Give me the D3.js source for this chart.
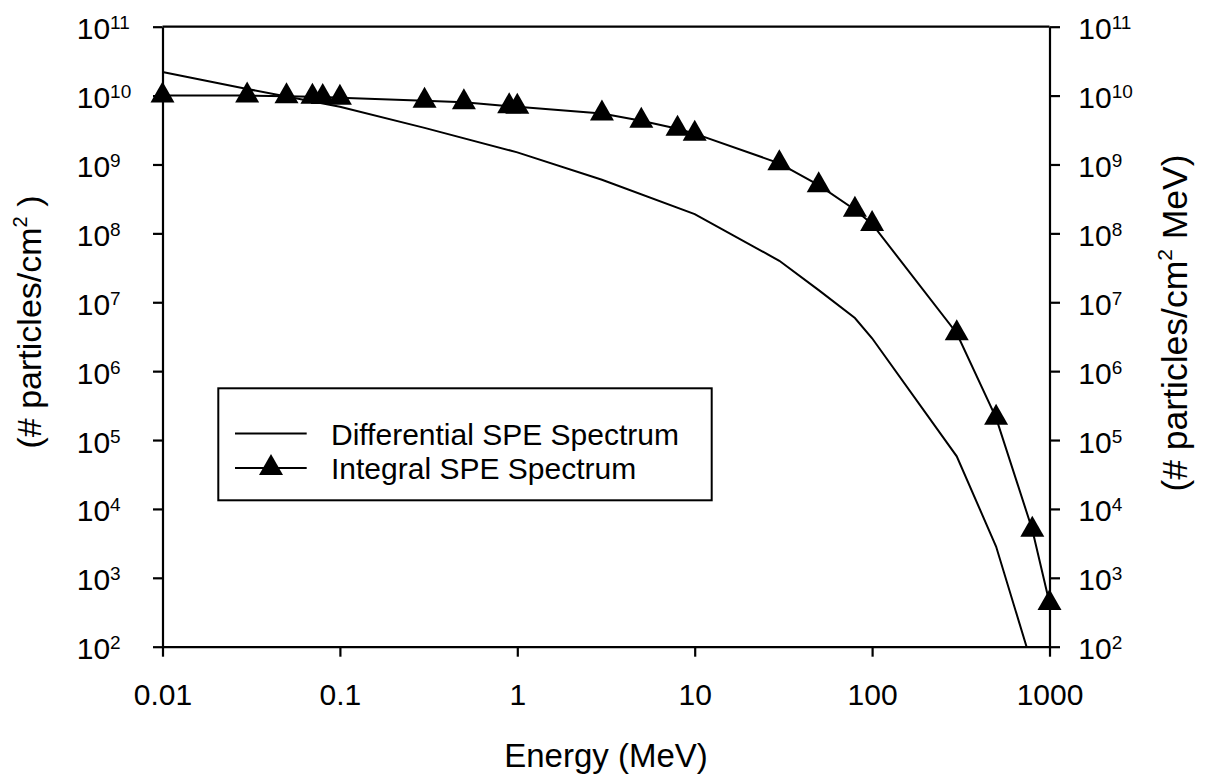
<!DOCTYPE html>
<html>
<head>
<meta charset="utf-8">
<script src="https://cdn.jsdelivr.net/npm/d3@7"></script>
<style>
  body { margin: 0; background: #fff; }
  svg { display: block; font-family: "Liberation Sans", Arial, sans-serif; }
</style>
</head>
<body>
<div id="chart"></div>
<script>
const WIDTH = 1212;
const HEIGHT = 778;
const PLOT = { left: 162.5, right: 1049.5, top: 26.7, bottom: 646.7 };

// energies (MeV) and fluence values
const DIFF_ENERGY = [0.01, 0.03, 0.1, 0.3, 1, 3, 10, 30, 50, 80, 100, 300, 500, 1000];
const DIFF_VALUES = [2.2e10, 1.25e10, 6.9e9, 3.4e9, 1.5e9, 6.0e8, 1.9e8, 4.0e7, 1.5e7, 5.9e6, 3.0e6, 5.8e4, 2.85e3, 8];

const INT_ENERGY = [0.01, 0.03, 0.05, 0.07, 0.08, 0.1, 0.3, 0.5, 0.9, 1, 3, 5, 8, 10, 30, 50, 80, 100, 300, 500, 800, 1000];
const INT_VALUES = [1.0e10, 1.0e10, 9.8e9, 9.6e9, 9.5e9, 9.3e9, 8.4e9, 8.0e9, 7.0e9, 6.9e9, 5.5e9, 4.3e9, 3.3e9, 2.8e9,
  1.04e9, 5.0e8, 2.2e8, 1.37e8, 3.55e6, 2.1e5, 5.0e3, 4.3e2];

const X_TICKS = [0.01, 0.1, 1, 10, 100, 1000];
const X_TICK_LABELS = ["0.01", "0.1", "1", "10", "100", "1000"];
const Y_EXPONENTS = [2, 3, 4, 5, 6, 7, 8, 9, 10, 11];

const LEGEND_LABELS = ["Differential SPE Spectrum", "Integral SPE Spectrum"];

const svg = d3.select("#chart").append("svg")
  .attr("width", WIDTH)
  .attr("height", HEIGHT);

const X_SCALE = d3.scaleLog().domain([0.01, 1000]).range([PLOT.left, PLOT.right]);
const Y_SCALE = d3.scaleLog().domain([1e2, 1e11]).range([PLOT.bottom, PLOT.top]);

svg.append("defs").append("clipPath").attr("id", "plot-clip")
  .append("rect")
  .attr("x", PLOT.left).attr("y", PLOT.top)
  .attr("width", PLOT.right - PLOT.left).attr("height", PLOT.bottom - PLOT.top);

// top border
svg.append("line")
  .attr("x1", PLOT.left).attr("x2", PLOT.right)
  .attr("y1", PLOT.top).attr("y2", PLOT.top)
  .attr("stroke", "#000").attr("stroke-width", 2.2);

const Y_TICK_VALUES = Y_EXPONENTS.map((e) => Math.pow(10, e));

function styleAxis(g) {
  g.select(".domain").attr("stroke", "#000").attr("stroke-width", 2.2);
  g.selectAll(".tick line").attr("stroke", "#000").attr("stroke-width", 2.2);
}

function addPowerLabels(g, xPos) {
  g.selectAll(".tick").each(function (d) {
    const t = d3.select(this).append("text")
      .attr("x", xPos)
      .attr("y", 12)
      .attr("text-anchor", "start")
      .attr("fill", "#000")
      .style("font-size", "30px");
    t.append("tspan").text("10");
    t.append("tspan")
      .attr("dy", -10)
      .style("font-size", "19px")
      .text(Math.round(Math.log10(d)));
  });
}

const leftAxis = svg.append("g")
  .attr("transform", `translate(${PLOT.left},0)`)
  .call(d3.axisLeft(Y_SCALE).tickValues(Y_TICK_VALUES).tickSize(9.5).tickSizeOuter(0).tickFormat(() => ""));
styleAxis(leftAxis);
addPowerLabels(leftAxis, 76.7 - PLOT.left);

const rightAxis = svg.append("g")
  .attr("transform", `translate(${PLOT.right},0)`)
  .call(d3.axisRight(Y_SCALE).tickValues(Y_TICK_VALUES).tickSize(10.5).tickSizeOuter(0).tickFormat(() => ""));
styleAxis(rightAxis);
addPowerLabels(rightAxis, 1078.3 - PLOT.right);

const bottomAxis = svg.append("g")
  .attr("transform", `translate(0,${PLOT.bottom})`)
  .call(d3.axisBottom(X_SCALE).tickValues(X_TICKS).tickSize(10).tickSizeOuter(0)
    .tickFormat((d, i) => X_TICK_LABELS[i]));
styleAxis(bottomAxis);
bottomAxis.selectAll(".tick text")
  .attr("y", 0).attr("dy", 58.5)
  .attr("fill", "#000")
  .style("font-size", "30px")
  .style("font-family", "'Liberation Sans', Arial, sans-serif");

// axis titles
svg.append("text")
  .attr("x", (PLOT.left + PLOT.right) / 2)
  .attr("y", 766.7)
  .attr("text-anchor", "middle")
  .style("font-size", "33px")
  .text("Energy (MeV)");

const leftTitle = svg.append("text")
  .attr("transform", "translate(41,322) rotate(-90)")
  .attr("text-anchor", "middle")
  .style("font-size", "34px");
leftTitle.append("tspan").text("(# particles/cm");
leftTitle.append("tspan").attr("dy", -14).style("font-size", "20px").text("2");
leftTitle.append("tspan").attr("dy", 14).text(" )");

const rightTitle = svg.append("text")
  .attr("transform", "translate(1187,323) rotate(-90)")
  .attr("text-anchor", "middle")
  .style("font-size", "35.5px");
rightTitle.append("tspan").text("(# particles/cm");
rightTitle.append("tspan").attr("dy", -15).style("font-size", "21px").text("2");
rightTitle.append("tspan").attr("dy", 15).text(" MeV)");

// series
const diffData = DIFF_ENERGY.map((e, i) => ({ e: e, v: DIFF_VALUES[i] }));
const intData = INT_ENERGY.map((e, i) => ({ e: e, v: INT_VALUES[i] }));

const line = d3.line()
  .x((d) => X_SCALE(d.e))
  .y((d) => Y_SCALE(d.v));

svg.append("path")
  .datum(diffData)
  .attr("clip-path", "url(#plot-clip)")
  .attr("fill", "none")
  .attr("stroke", "#000")
  .attr("stroke-width", 2)
  .attr("d", line);

svg.append("path")
  .datum(intData)
  .attr("fill", "none")
  .attr("stroke", "#000")
  .attr("stroke-width", 2)
  .attr("d", line);

const TRI = "M0,-14L12,7L-12,7Z";

svg.selectAll(".marker")
  .data(intData)
  .enter()
  .append("path")
  .attr("class", "marker")
  .attr("d", TRI)
  .attr("fill", "#000")
  .attr("transform", (d) => `translate(${X_SCALE(d.e)},${Y_SCALE(d.v)})`);

// legend
const legend = svg.append("g");
legend.append("rect")
  .attr("x", 218.3).attr("y", 388.3)
  .attr("width", 711.7 - 218.3).attr("height", 112)
  .attr("fill", "#fff")
  .attr("stroke", "#000").attr("stroke-width", 2);

LEGEND_LABELS.forEach((label, i) => {
  const cy = 433.5 + i * 34.5;
  legend.append("line")
    .attr("x1", 235).attr("x2", 306.7)
    .attr("y1", cy).attr("y2", cy)
    .attr("stroke", "#000").attr("stroke-width", 2);
  if (i === 1) {
    legend.append("path")
      .attr("d", TRI)
      .attr("fill", "#000")
      .attr("transform", `translate(271,${cy})`);
  }
  legend.append("text")
    .attr("x", 331)
    .attr("y", cy + 11)
    .style("font-size", "30px")
    .text(label);
});
</script>
</body>
</html>
